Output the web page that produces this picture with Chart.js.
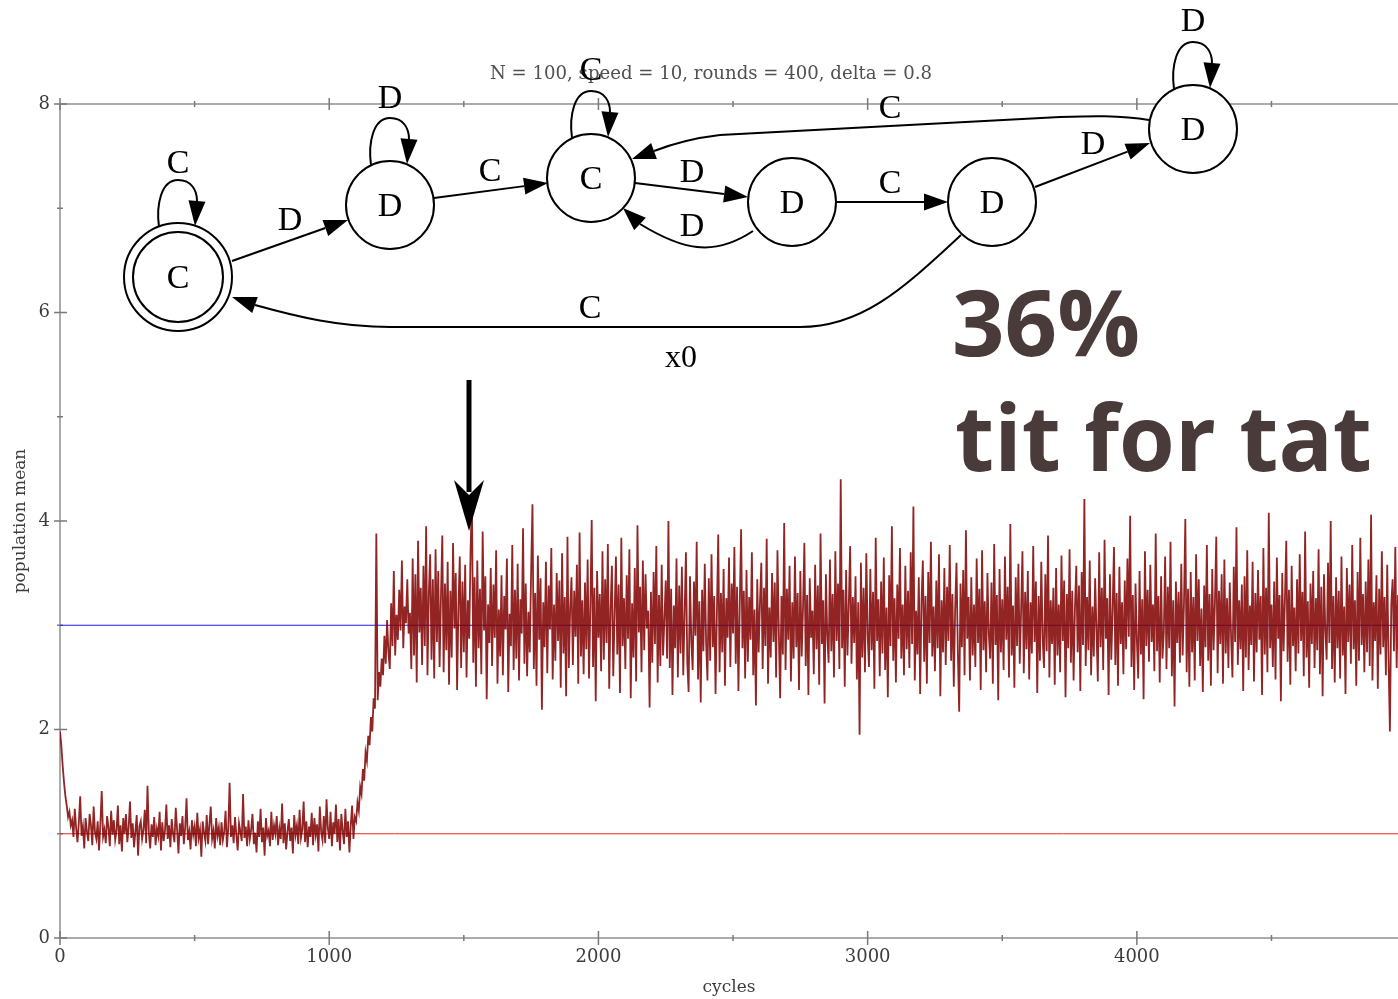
<!DOCTYPE html>
<html>
<head>
<meta charset="utf-8">
<title>population mean</title>
<script src="https://cdn.jsdelivr.net/npm/chart.js@4.4.0/dist/chart.umd.min.js"></script>
<style>
  html, body { margin: 0; padding: 0; background: #fff; }
  #wrap { width: 1398px; height: 999px; position: relative; }
</style>
</head>
<body>
<div id="wrap"><canvas id="popChart" width="1398" height="999"></canvas></div>
<script>
// population mean, sampled every 5 cycles
var cycleStep = 5;
var popMean = [
  // 0 - 1095
  1.98, 1.84, 1.65, 1.49, 1.36, 1.27, 1.16, 1.21, 1.08, 1.13,
  0.97, 1.24, 1.05, 0.92, 1.11, 1.36, 0.98, 1.07, 0.86, 1.15,
  1.02, 0.93, 1.19, 1.08, 0.89, 1.26, 1.01, 0.95, 1.12, 0.84,
  1.09, 1.41, 0.97, 1.04, 0.91, 1.17, 1.06, 0.88, 1.22, 0.99,
  1.13, 0.94, 1.03, 1.27, 0.90, 1.08, 0.83, 1.15, 1.00, 1.19,
  0.92, 1.06, 1.31, 0.96, 1.10, 0.87, 1.02, 1.18, 0.79, 1.07,
  1.12, 0.95, 1.04, 1.23, 0.91, 1.46, 1.01, 0.86, 1.09, 0.97,
  1.16, 0.89, 1.05, 0.98, 1.21, 0.84, 1.11, 0.93, 1.03, 1.28,
  0.95, 1.08, 0.87, 1.14, 1.00, 0.92, 1.25, 1.04, 0.81, 1.10,
  0.98, 1.17, 0.90, 1.06, 1.34, 0.94, 1.02, 0.85, 1.13, 0.99,
  1.07, 0.88, 1.20, 0.96, 1.04, 0.78, 1.12, 1.01, 0.93, 1.18,
  0.90, 1.09, 1.26, 0.95, 1.03, 0.86, 1.15, 0.98, 1.06, 0.89,
  1.11, 0.94, 1.02, 1.22, 0.87, 1.05, 1.49, 0.97, 1.08, 0.91,
  1.16, 0.99, 0.84, 1.10, 1.02, 0.93, 1.38, 0.96, 1.07, 0.88,
  1.13, 0.95, 1.04, 1.19, 0.90, 1.01, 0.82, 1.12, 0.97, 1.24,
  0.92, 1.06, 0.79, 1.15, 0.98, 1.03, 0.88, 1.21, 0.94, 1.08,
  1.00, 1.17, 0.89, 1.05, 0.95, 1.29, 0.91, 1.10, 0.85, 1.02,
  1.14, 0.93, 1.06, 0.81, 1.18, 0.99, 1.08, 0.90, 1.23, 0.96,
  1.04, 1.31, 0.92, 1.12, 0.87, 1.07, 0.97, 1.20, 0.89, 1.15,
  0.99, 1.09, 0.83, 1.26, 1.02, 0.94, 1.17, 0.91, 1.33, 1.05,
  0.95, 1.21, 0.88, 1.11, 1.00, 1.28, 0.92, 1.14, 0.84, 1.19,
  1.03, 0.90, 1.24, 0.97, 1.12, 0.82, 1.08, 1.27, 0.95, 1.16,
  // 1100 - 1295 (switch)
  1.12, 1.30, 1.22, 1.45, 1.38, 1.62, 1.51, 1.78, 1.70, 1.94,
  1.85, 2.12, 1.98, 2.30, 2.20, 3.88, 2.28, 2.55, 2.41, 2.68,
  2.52, 2.90, 2.63, 3.05, 2.74, 2.58, 3.21, 2.80, 3.52, 2.71,
  3.10, 2.86, 3.34, 2.95, 3.62, 2.78, 3.18, 3.02, 3.44, 2.92,
  // 1300 - 4970
  3.12, 2.58, 3.64, 2.71, 3.49, 2.45, 3.81, 2.93, 3.36, 2.62,
  3.57, 2.80, 3.95, 2.52, 3.30, 3.68, 2.67, 3.44, 2.49, 3.73,
  2.84, 3.52, 2.60, 3.27, 3.86, 2.55, 3.40, 2.76, 3.61, 2.43,
  3.33, 2.69, 3.79, 2.97, 3.50, 2.38, 3.18, 3.66, 2.59, 3.42,
  2.74, 3.58, 2.50, 3.24, 2.87, 3.71, 4.22, 2.64, 3.46, 2.41,
  3.62, 2.78, 3.35, 2.53, 3.90, 2.95, 3.47, 2.29, 3.20, 2.83,
  3.55, 2.61, 3.39, 2.88, 3.72, 2.44, 3.15, 2.70, 3.48, 2.52,
  3.28, 2.96, 3.64, 2.36, 3.11, 2.80, 3.77, 2.57, 3.34, 2.68,
  3.59, 2.47, 3.25, 2.92, 3.93, 2.63, 3.40, 2.51, 3.13, 2.74,
  3.52, 4.16, 2.58, 3.31, 2.42, 3.67, 2.86, 3.45, 2.19, 3.22,
  2.79, 3.61, 2.54, 3.38, 2.96, 3.74, 2.48, 3.20, 2.66, 3.50,
  2.85, 3.43, 2.40, 3.69, 2.73, 3.27, 2.32, 3.85, 2.59, 3.16,
  3.46, 2.62, 3.33, 2.89, 3.58, 2.44, 3.89, 2.70, 3.24, 2.53,
  3.41, 2.77, 3.63, 2.49, 3.18, 4.01, 2.60, 3.36, 2.27, 3.52,
  2.88, 3.30, 2.56, 3.71, 2.67, 3.44, 2.83, 3.78, 2.39, 3.15,
  3.57, 2.51, 3.09, 3.66, 2.72, 3.39, 2.35, 3.84, 2.80, 3.26,
  2.58, 3.48, 2.87, 3.73, 2.30, 3.21, 2.69, 3.55, 2.46, 3.96,
  2.93, 3.37, 2.55, 3.62, 2.76, 3.49, 2.97, 3.14, 2.21, 3.32,
  2.64, 3.51, 2.82, 3.76, 2.45, 3.29, 2.61, 3.58, 2.71, 3.05,
  3.43, 2.68, 4.00, 2.59, 3.35, 2.33, 3.19, 2.78, 3.64, 2.50,
  3.38, 2.73, 3.56, 2.52, 3.10, 3.70, 2.64, 2.36, 3.47, 2.85,
  2.57, 3.42, 2.90, 3.80, 2.48, 3.23, 2.26, 3.34, 2.75, 3.59,
  2.83, 2.47, 3.45, 2.66, 3.68, 2.79, 3.28, 2.34, 3.12, 3.87,
  2.55, 3.31, 2.74, 3.54, 2.42, 3.26, 2.88, 3.65, 2.60, 3.40,
  2.92, 3.75, 2.63, 3.37, 2.37, 3.20, 3.92, 2.78, 3.33, 2.49,
  3.53, 2.65, 3.27, 2.86, 3.70, 2.52, 3.15, 2.23, 3.44, 2.74,
  3.21, 3.60, 2.58, 3.36, 2.80, 3.83, 2.44, 3.17, 2.69, 3.50,
  2.84, 3.41, 2.50, 3.72, 2.95, 2.30, 3.28, 2.72, 3.98, 2.57,
  3.35, 2.86, 3.57, 2.46, 3.22, 2.68, 3.66, 2.79, 3.31, 2.38,
  3.52, 2.70, 3.18, 3.79, 2.61, 3.29, 2.33, 3.45, 2.88, 3.14,
  2.53, 3.58, 2.77, 3.38, 2.43, 3.88, 2.82, 3.24, 2.25, 3.49,
  2.90, 2.64, 3.63, 2.75, 3.30, 2.50, 3.71, 2.85, 3.40, 2.58,
  4.40, 2.78, 3.34, 2.41, 3.53, 2.71, 3.19, 3.76, 2.63, 3.27,
  2.83, 3.47, 2.48, 3.22, 1.95, 3.60, 2.69, 3.36, 2.55, 3.69,
  2.91, 2.60, 3.54, 2.76, 3.32, 2.39, 3.84, 2.85, 3.25, 2.51,
  3.42, 2.73, 3.65, 2.57, 3.17, 2.31, 3.48, 2.80, 3.95, 2.66,
  3.26, 2.45, 3.39, 2.87, 3.74, 2.68, 3.20, 2.52, 3.57, 2.77,
  3.33, 2.59, 3.70, 2.82, 4.14, 2.47, 3.14, 2.72, 3.46, 2.34,
  3.22, 3.62, 2.65, 3.28, 2.44, 3.51, 2.83, 3.80, 2.70, 3.18,
  2.56, 3.43, 2.78, 3.68, 2.32, 3.24, 2.74, 3.55, 2.62, 3.37,
  2.85, 3.77, 2.66, 3.30, 2.41, 3.15, 3.60, 2.75, 2.17, 3.40,
  2.79, 3.53, 2.52, 3.91, 2.87, 3.27, 2.47, 3.46, 2.71, 3.20,
  2.60, 3.64, 2.83, 3.35, 2.38, 3.72, 2.76, 3.23, 2.55, 3.50,
  2.92, 2.68, 3.41, 2.44, 3.78, 2.81, 3.29, 2.28, 3.54, 2.74,
  3.25, 2.57, 3.66, 2.86, 3.37, 2.50, 3.97, 2.71, 3.19, 2.40,
  3.46, 2.80, 3.59, 2.63, 3.14, 3.71, 2.54, 3.32, 2.77, 3.52,
  2.48, 3.22, 2.73, 3.76, 2.84, 3.42, 2.35, 3.28, 2.66, 3.61,
  2.88, 2.59, 3.49, 2.75, 3.86, 2.50, 3.24, 2.82, 3.36, 2.43,
  3.55, 2.71, 3.20, 2.55, 3.67, 2.85, 3.43, 2.31, 3.30, 2.78,
  3.73, 2.64, 3.33, 2.47, 3.16, 3.57, 2.74, 3.38, 2.37, 3.51,
  2.81, 4.21, 2.61, 3.27, 2.76, 3.62, 2.52, 3.18, 2.70, 3.45,
  2.95, 2.46, 3.70, 2.79, 3.36, 2.57, 3.82, 2.87, 3.26, 2.33,
  3.49, 2.67, 3.15, 3.75, 2.62, 3.31, 2.42, 3.56, 2.82, 3.22,
  2.53, 3.43, 2.77, 3.64, 2.89, 4.05, 2.60, 3.29, 2.38, 3.40,
  2.86, 2.49, 3.52, 2.72, 3.25, 2.29, 3.71, 2.80, 3.34, 2.65,
  3.58, 2.84, 3.20, 2.56, 3.88, 2.75, 3.28, 2.45, 3.47, 2.68,
  2.92, 3.66, 2.58, 3.37, 2.78, 3.80, 2.51, 3.24, 2.22, 3.42,
  2.83, 3.32, 2.64, 3.59, 2.71, 3.21, 4.02, 2.55, 3.35, 2.41,
  3.51, 2.74, 3.27, 2.47, 3.68, 2.85, 3.44, 2.61, 3.16, 2.36,
  3.38, 2.79, 3.77, 2.66, 3.30, 2.42, 3.54, 2.76, 3.22, 3.85,
  2.54, 3.33, 2.82, 3.49, 2.44, 3.63, 2.73, 3.26, 2.59, 3.41,
  2.89, 2.50, 3.56, 2.84, 3.94, 2.62, 3.24, 2.77, 3.39, 2.37,
  3.47, 2.69, 3.72, 2.57, 3.19, 2.81, 3.61, 2.46, 3.31, 2.74,
  3.53, 2.86, 3.28, 2.33, 3.74, 2.72, 3.36, 2.55, 4.08, 2.78,
  3.20, 2.60, 3.42, 2.48, 3.65, 2.87, 3.29, 2.27, 3.50, 2.75,
  3.25, 3.81, 2.65, 3.34, 2.43, 3.57, 2.80, 3.17, 2.56, 3.44,
  2.73, 3.68, 2.85, 3.32, 2.51, 3.90, 2.69, 3.23, 2.40, 3.40,
  2.82, 3.52, 2.59, 3.26, 2.76, 3.73, 2.53, 3.37, 2.32, 3.49,
  2.95, 2.67, 3.60, 2.83, 4.00, 2.58, 3.28, 2.45, 3.46, 2.78,
  3.33, 2.49, 3.66, 2.71, 3.18, 2.34, 3.55, 2.84, 3.39, 2.63,
  3.77, 2.77, 3.24, 2.42, 3.51, 2.66, 3.84, 2.81, 3.30, 2.55,
  3.42, 2.74, 3.63, 2.61, 4.06, 2.47, 3.22, 2.85, 3.48, 2.39,
  3.35, 2.72, 3.71, 2.79, 3.27, 2.52, 3.58, 2.65, 1.98, 3.20,
  3.44, 2.75, 3.75, 2.59, 3.29
];

var xMax = 4970;
var xTicks = [0, 1000, 2000, 3000, 4000];
var xMinorTicks = [500, 1500, 2500, 3500, 4500];
var yTicks = [0, 2, 4, 6, 8];
var yMinorTicks = [1, 3, 5, 7];
var cooperateLevel = 1;   // red reference
var defectLevel = 3;      // blue reference

var titleText = 'N = 100, speed = 10, rounds = 400, delta = 0.8';
var shareText = '36%';
var strategyText = 'tit for tat';

var meanPoints = popMean.map(function (v, i) { return { x: i * cycleStep, y: v }; });

function flatLine(level) {
  return [{ x: 0, y: level }, { x: xMax, y: level }];
}

// ---- drawing helpers ------------------------------------------------------
function arrowHead(ctx, bx, by, tx, ty, half) {
  var ang = Math.atan2(ty - by, tx - bx);
  var s = Math.sin(ang), c = Math.cos(ang);
  ctx.beginPath();
  ctx.moveTo(tx, ty);
  ctx.lineTo(bx + half * s, by - half * c);
  ctx.lineTo(bx - half * s, by + half * c);
  ctx.closePath();
  ctx.fill();
}

function straightEdge(ctx, x1, y1, tx, ty) {
  var ang = Math.atan2(ty - y1, tx - x1);
  var bx = tx - 24 * Math.cos(ang), by = ty - 24 * Math.sin(ang);
  ctx.beginPath();
  ctx.moveTo(x1, y1);
  ctx.lineTo(bx, by);
  ctx.stroke();
  arrowHead(ctx, bx, by, tx, ty, 8.5);
}

function selfLoop(ctx, cx, cy, r) {
  var top = cy - r;
  ctx.beginPath();
  ctx.moveTo(cx - 19, top + 4);
  ctx.bezierCurveTo(cx - 22, top - 18, cx - 17, top - 43, cx, top - 43);
  ctx.bezierCurveTo(cx + 14, top - 43, cx + 19, top - 32, cx + 19, top - 22);
  ctx.stroke();
  arrowHead(ctx, cx + 19, top - 22, cx + 17, top + 3, 8.5);
}

function label(ctx, text, x, y) {
  ctx.fillText(text, x, y + 11);
}

function node(ctx, cx, cy, r, text, double) {
  ctx.beginPath();
  ctx.arc(cx, cy, r, 0, Math.PI * 2);
  ctx.fillStyle = '#fff';
  ctx.fill();
  ctx.stroke();
  if (double) {
    ctx.beginPath();
    ctx.arc(cx, cy, r - 9, 0, Math.PI * 2);
    ctx.stroke();
  }
  ctx.fillStyle = '#000';
  label(ctx, text, cx, cy);
}

function fitText(ctx, text, x, y, width) {
  var w = ctx.measureText(text).width;
  ctx.save();
  ctx.translate(x, y);
  ctx.scale(width / w, 1);
  ctx.fillText(text, 0, 0);
  ctx.restore();
}

// axis frame with gnuplot-style crossing ticks
var framePlugin = {
  id: 'frame',
  beforeDatasetsDraw: function (chart) {
    var ctx = chart.ctx, a = chart.chartArea;
    var xs = chart.scales.x, ys = chart.scales.y;
    ctx.save();
    ctx.strokeStyle = '#ababab';
    ctx.lineWidth = 2;
    ctx.beginPath();
    ctx.moveTo(a.left, a.top); ctx.lineTo(a.right, a.top);
    ctx.moveTo(a.left, a.top); ctx.lineTo(a.left, a.bottom);
    ctx.moveTo(a.left, a.bottom); ctx.lineTo(a.right, a.bottom);
    ctx.stroke();

    ctx.strokeStyle = '#7a7a7a';
    ctx.lineWidth = 1.5;
    ctx.beginPath();
    xTicks.forEach(function (v) {
      var px = xs.getPixelForValue(v);
      ctx.moveTo(px, a.bottom - 7); ctx.lineTo(px, a.bottom + 7);
      ctx.moveTo(px, a.top - 6); ctx.lineTo(px, a.top + 6);
    });
    yTicks.forEach(function (v) {
      var py = ys.getPixelForValue(v);
      ctx.moveTo(a.left - 6, py); ctx.lineTo(a.left + 7, py);
    });
    xMinorTicks.forEach(function (v) {
      var px = xs.getPixelForValue(v);
      ctx.moveTo(px, a.bottom - 3); ctx.lineTo(px, a.bottom + 3);
      ctx.moveTo(px, a.top - 3); ctx.lineTo(px, a.top + 3);
    });
    yMinorTicks.forEach(function (v) {
      var py = ys.getPixelForValue(v);
      ctx.moveTo(a.left - 3, py); ctx.lineTo(a.left + 3, py);
    });
    ctx.stroke();
    ctx.restore();
  },
  afterDraw: function (chart) {
    var ctx = chart.ctx;
    ctx.save();

    // run parameters
    ctx.fillStyle = '#505050';
    ctx.font = '18px "DejaVu Serif"';
    ctx.textAlign = 'left';
    ctx.textBaseline = 'alphabetic';
    fitText(ctx, titleText, 490, 79, 442);

    // pointer down to the switch
    ctx.strokeStyle = '#000';
    ctx.fillStyle = '#000';
    ctx.lineWidth = 5;
    ctx.beginPath();
    ctx.moveTo(469, 380); ctx.lineTo(469, 492);
    ctx.stroke();
    ctx.beginPath();
    ctx.moveTo(469, 531);
    ctx.lineTo(454, 480);
    ctx.lineTo(469, 495);
    ctx.lineTo(484, 480);
    ctx.closePath();
    ctx.fill();

    // strategy automaton
    ctx.lineWidth = 2;
    ctx.strokeStyle = '#000';
    ctx.fillStyle = '#000';
    ctx.font = '34px "Liberation Serif"';
    ctx.textAlign = 'center';

    selfLoop(ctx, 178, 277, 54);
    selfLoop(ctx, 390, 205, 44);
    selfLoop(ctx, 591, 178, 44);
    selfLoop(ctx, 1193, 129, 44);

    straightEdge(ctx, 232, 261, 348, 220);
    straightEdge(ctx, 434, 198, 548, 183);
    straightEdge(ctx, 635, 183, 748, 197);
    straightEdge(ctx, 836, 202, 948, 202);
    straightEdge(ctx, 1035, 187, 1150, 143);

    // D -> C back edge
    ctx.beginPath();
    ctx.moveTo(753, 231);
    ctx.bezierCurveTo(735, 243, 715, 249, 697, 247);
    ctx.bezierCurveTo(677, 245, 658, 235, 640, 224);
    ctx.stroke();
    arrowHead(ctx, 640, 224, 623, 208, 8.5);

    // last D -> second C
    ctx.beginPath();
    ctx.moveTo(1149, 120);
    ctx.bezierCurveTo(1120, 115, 1090, 116, 1060, 117);
    ctx.lineTo(720, 135);
    ctx.bezierCurveTo(694, 138, 672, 144, 654, 151);
    ctx.stroke();
    arrowHead(ctx, 654, 151, 632, 159, 8.5);

    // D -> start
    ctx.beginPath();
    ctx.moveTo(961, 235);
    ctx.bezierCurveTo(900, 292, 860, 327, 800, 327);
    ctx.lineTo(390, 327);
    ctx.bezierCurveTo(340, 327, 298, 317, 255, 305);
    ctx.stroke();
    arrowHead(ctx, 255, 305, 232, 297, 8.5);

    node(ctx, 178, 277, 54, 'C', true);
    node(ctx, 390, 205, 44, 'D');
    node(ctx, 591, 178, 44, 'C');
    node(ctx, 792, 202, 44, 'D');
    node(ctx, 992, 202, 44, 'D');
    node(ctx, 1193, 129, 44, 'D');

    ctx.fillStyle = '#000';
    label(ctx, 'C', 178, 162);
    label(ctx, 'D', 290, 219);
    label(ctx, 'D', 390, 97);
    label(ctx, 'C', 490, 170);
    label(ctx, 'C', 591, 69);
    label(ctx, 'D', 692, 171);
    label(ctx, 'D', 692, 225);
    label(ctx, 'C', 890, 182);
    label(ctx, 'D', 1093, 143);
    label(ctx, 'D', 1193, 20);
    label(ctx, 'C', 890, 107);
    label(ctx, 'C', 590, 307);
    ctx.font = '32px "Liberation Serif"';
    ctx.fillText('x0', 681, 367);

    // headline
    ctx.fillStyle = '#4a3b3b';
    ctx.textAlign = 'left';
    ctx.font = 'bold 92px "Open Sans"';
    fitText(ctx, shareText, 952, 356, 188);
    fitText(ctx, strategyText, 955, 471, 417);

    ctx.restore();
  }
};

var serif = { family: 'DejaVu Serif', size: 18 };
var plainNumber = function (v) { return String(v); };

new Chart(document.getElementById('popChart'), {
  type: 'line',
  data: {
    datasets: [
      {
        data: meanPoints,
        borderColor: 'rgba(128, 0, 0, 0.86)',
        borderWidth: 1.8,
        pointRadius: 0,
        tension: 0,
        order: 0
      },
      {
        data: flatLine(defectLevel),
        borderColor: '#1c1cf0',
        borderWidth: 1,
        pointRadius: 0,
        order: 1
      },
      {
        data: flatLine(cooperateLevel),
        borderColor: '#e82828',
        borderWidth: 1,
        pointRadius: 0,
        order: 1
      }
    ]
  },
  options: {
    responsive: false,
    animation: false,
    layout: { padding: { top: 104, right: 0, bottom: 0, left: 0 } },
    plugins: {
      legend: { display: false },
      tooltip: { enabled: false },
      title: { display: false }
    },
    scales: {
      x: {
        type: 'linear',
        min: 0,
        max: xMax,
        afterBuildTicks: function (s) { s.ticks = xTicks.map(function (v) { return { value: v }; }); },
        afterFit: function (s) { s.height = 61; },
        grid: { display: false, drawTicks: false },
        border: { display: false },
        ticks: { padding: 9, color: '#3c3c3c', font: serif, maxRotation: 0, autoSkip: false, callback: plainNumber },
        title: { display: true, text: 'cycles', color: '#3c3c3c', font: { family: 'DejaVu Serif', size: 17 }, padding: { top: 0, bottom: 1 } }
      },
      y: {
        min: 0,
        max: 8,
        afterBuildTicks: function (s) { s.ticks = yTicks.map(function (v) { return { value: v }; }); },
        afterFit: function (s) { s.width = 60; },
        grid: { display: false, drawTicks: false },
        border: { display: false },
        ticks: { padding: 10, color: '#3c3c3c', font: serif, callback: plainNumber },
        title: { display: true, text: 'population mean', color: '#3c3c3c', font: { family: 'DejaVu Serif', size: 17 }, padding: { top: 10, bottom: 0 } }
      }
    }
  },
  plugins: [framePlugin]
});
</script>
</body>
</html>
